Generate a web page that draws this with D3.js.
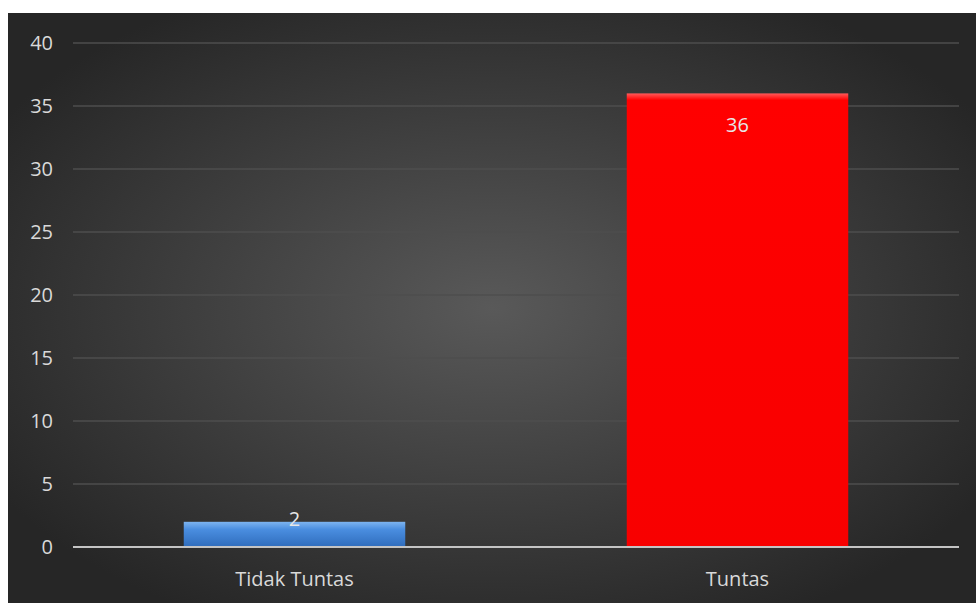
<!DOCTYPE html>
<html>
<head>
<meta charset="utf-8">
<script src="https://cdn.jsdelivr.net/npm/d3@7"></script>
<style>
  body { margin: 0; background: #fff; }
  text { font-family: "Open Sans", "Liberation Sans", sans-serif; }
</style>
</head>
<body>
<script>
var categories = ["Tidak Tuntas", "Tuntas"];
var values = [2, 36];
var yTicks = [0, 5, 10, 15, 20, 25, 30, 35, 40];

var width = 976, height = 603;

var svg = d3.select("body")
  .append("svg")
    .attr("width", width)
    .attr("height", height);

var defs = svg.append("defs");

// background: dark radial glow
var bg = defs.append("radialGradient")
    .attr("id", "bg")
    .attr("cx", "50%").attr("cy", "50%").attr("r", "60%");
bg.append("stop").attr("offset", "0%").attr("stop-color", "#595959");
bg.append("stop").attr("offset", "100%").attr("stop-color", "#262626");

svg.append("rect")
    .attr("x", 8).attr("y", 13)
    .attr("width", width - 8).attr("height", height - 13)
    .style("fill", "url(#bg)");

// bevel look for the bars
var blue = defs.append("linearGradient").attr("id", "g0")
    .attr("x1", 0).attr("y1", 0).attr("x2", 0).attr("y2", 1);
blue.append("stop").attr("offset", "0%").attr("stop-color", "#7db4f0");
blue.append("stop").attr("offset", "30%").attr("stop-color", "#4a8ee0");
blue.append("stop").attr("offset", "100%").attr("stop-color", "#2f6cbc");

var red = defs.append("linearGradient").attr("id", "g1")
    .attr("x1", 0).attr("y1", 0).attr("x2", 0).attr("y2", 1);
red.append("stop").attr("offset", "0%").attr("stop-color", "#ff5a5a");
red.append("stop").attr("offset", "1.5%").attr("stop-color", "#ff0000");
red.append("stop").attr("offset", "100%").attr("stop-color", "#f80000");

var x = d3.scaleBand()
    .domain(categories)
    .range([73, 959])
    .paddingInner(0.5)
    .paddingOuter(0.25);

var y = d3.scaleLinear()
    .domain([0, 40])
    .range([547, 43]);

// gridlines
svg.append("g")
  .selectAll("line")
    .data(yTicks.filter(function(d) { return d > 0; }))
  .enter().append("line")
    .attr("x1", 73).attr("x2", 959)
    .attr("y1", function(d) { return y(d); })
    .attr("y2", function(d) { return y(d); })
    .attr("stroke", "#4e4e4e")
    .attr("stroke-width", 1.5);

// y tick labels
svg.append("g")
  .selectAll("text")
    .data(yTicks)
  .enter().append("text")
    .attr("x", 53)
    .attr("y", function(d) { return y(d); })
    .attr("dy", "0.35em")
    .attr("text-anchor", "end")
    .attr("fill", "#d9d9d9")
    .style("font-size", "20px")
    .text(function(d) { return d; });

// bars
svg.append("g")
  .selectAll("rect")
    .data(values)
  .enter().append("rect")
    .attr("x", function(d, i) { return x(categories[i]); })
    .attr("y", function(d) { return y(d); })
    .attr("width", x.bandwidth())
    .attr("height", function(d) { return y(0) - y(d); })
    .style("fill", function(d, i) { return "url(#g" + i + ")"; });

// x axis line
svg.append("line")
    .attr("x1", 73).attr("x2", 959)
    .attr("y1", y(0)).attr("y2", y(0))
    .attr("stroke", "#c4c4c4")
    .attr("stroke-width", 2);

// value labels (inside end, pushed up when the bar is short)
svg.append("g")
  .selectAll("text")
    .data(values)
  .enter().append("text")
    .attr("x", function(d, i) { return x(categories[i]) + x.bandwidth() / 2; })
    .attr("y", function(d) { return Math.min(y(d) + 32, y(0) - 28); })
    .attr("dy", "0.35em")
    .attr("text-anchor", "middle")
    .attr("fill", "#e6e6e6")
    .style("font-size", "20px")
    .text(function(d) { return d; });

// category labels
svg.append("g")
  .selectAll("text")
    .data(categories)
  .enter().append("text")
    .attr("x", function(d) { return x(d) + x.bandwidth() / 2; })
    .attr("y", 579)
    .attr("dy", "0.35em")
    .attr("text-anchor", "middle")
    .attr("fill", "#d9d9d9")
    .style("font-size", "20px")
    .text(function(d) { return d; });
</script>
</body>
</html>
